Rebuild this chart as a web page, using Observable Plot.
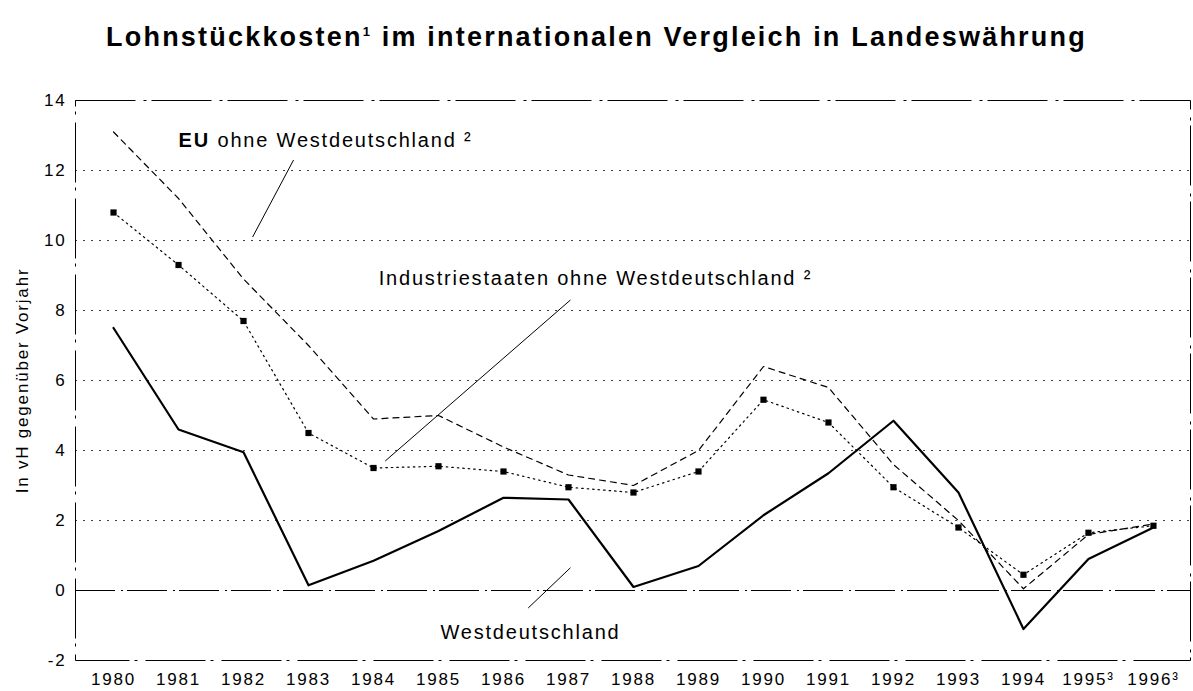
<!DOCTYPE html>
<html>
<head>
<meta charset="utf-8">
<script src="https://cdn.jsdelivr.net/npm/d3@7"></script>
<script src="https://cdn.jsdelivr.net/npm/@observablehq/plot@0.6"></script>
<style>
  html, body { margin: 0; padding: 0; background: #fff; overflow: hidden; }
  #title { height: 70px; box-sizing: border-box; padding-top: 22px; text-align: center;
           font: bold 27px "Liberation Sans", Arial, sans-serif; letter-spacing: 2.2px; color: #000; }
  #chart svg text { letter-spacing: 1.8px; }
</style>
</head>
<body>
<div id="title">Lohnstückkosten<sup style="font-size:13px">1</sup> im internationalen Vergleich in Landeswährung</div>
<div id="chart"></div>
<script>
const years = [1980,1981,1982,1983,1984,1985,1986,1987,1988,1989,1990,1991,1992,1993,1994,1995,1996];
const westdeutschland = [7.5,4.6,3.95,0.15,0.85,1.7,2.65,2.6,0.1,0.7,2.15,3.35,4.85,2.8,-1.1,0.9,1.8];
const euOhneWest = [13.1,11.2,8.9,7.0,4.9,5.0,4.1,3.3,3.0,4.0,6.4,5.8,3.6,2.0,0.05,1.6,1.9];
const industrieOhneWest = [10.8,9.3,7.7,4.5,3.5,3.55,3.4,2.95,2.8,3.4,5.45,4.8,2.95,1.8,0.45,1.65,1.85];
const yTicks = [-2,0,2,4,6,8,10,12,14];
const yearLabels = years.map(y => (y >= 1995 ? y + "³" : String(y)));
const yLabel = "In vH gegenüber Vorjahr";

// annotation labels (data coordinates) and leader lines
const seriesLabels = [
  {text: "EU", x: 1981.0, y: 12.85, bold: true},
  {text: "ohne Westdeutschland ²", x: 1981.6, y: 12.85, bold: false},
  {text: "Industriestaaten ohne Westdeutschland ²", x: 1984.08, y: 8.9, bold: false},
  {text: "Westdeutschland", x: 1985.03, y: -1.2, bold: false}
];
const leaders = [
  {x1: 1982.77, y1: 12.3, x2: 1982.14, y2: 10.1, dash: "2,3"},
  {x1: 1987.03, y1: 8.3, x2: 1984.18, y2: 3.7, dash: "6,3,2,3"},
  {x1: 1986.38, y1: -0.5, x2: 1987.03, y2: 0.65, dash: "6,3,2,3"}
];

const rows = (vals) => years.map((yr, i) => ({year: yr, value: vals[i]}));
const westRows = rows(westdeutschland);
const euRows = rows(euOhneWest);
const indRows = rows(industrieOhneWest);

const font = '"Liberation Sans", Arial, sans-serif';

const chart = Plot.plot({
  width: 1193,
  height: 620,
  marginLeft: 75,
  marginRight: 3,
  marginTop: 30,
  marginBottom: 30,
  style: {fontFamily: font, fontSize: "18px", color: "#000", background: "#fff"},
  x: {domain: [1979.415, 1996.57]},
  y: {domain: [-2, 14]},
  marks: [
    Plot.gridY(yTicks.filter(v => v > -2 && v < 14 && v !== 0), {stroke: "#000", strokeOpacity: 0.75, strokeDasharray: "2,6"}),
    Plot.ruleY([0], {stroke: "#000", strokeWidth: 1, strokeDasharray: "40,6,2,4"}),
    Plot.frame({stroke: "#000", strokeWidth: 1, strokeDasharray: "60,8,3,5"}),
    Plot.axisY({ticks: yTicks, tickSize: 0, tickPadding: 9, fontSize: 17, label: yLabel,
                tickFormat: d => String(d),
                labelAnchor: "center", labelArrow: "none", labelOffset: 60}),
    Plot.axisX({ticks: years, tickSize: 0, tickPadding: 12, fontSize: 17, label: null,
                tickFormat: d => yearLabels[years.indexOf(d)]}),
    Plot.line(euRows, {x: "year", y: "value", stroke: "#000", strokeWidth: 1.2, strokeDasharray: "6,5"}),
    Plot.line(indRows, {x: "year", y: "value", stroke: "#000", strokeWidth: 1.2, strokeDasharray: "1.5,4"}),
    Plot.dot(indRows, {x: "year", y: "value", symbol: "square", r: 3.5, fill: "#000", stroke: "none"}),
    Plot.line(westRows, {x: "year", y: "value", stroke: "#000", strokeWidth: 2.2}),
    Plot.link(leaders, {x1: "x1", y1: "y1", x2: "x2", y2: "y2", stroke: "#000", strokeWidth: 1, strokeDasharray: d => d.dash}),
    Plot.text(seriesLabels.filter(d => d.bold), {x: "x", y: "y", text: "text", textAnchor: "start", fontSize: 20, fontWeight: "bold", fill: "#000"}),
    Plot.text(seriesLabels.filter(d => !d.bold), {x: "x", y: "y", text: "text", textAnchor: "start", fontSize: 20, fill: "#000"})
  ]
});
document.getElementById("chart").appendChild(chart);
</script>
</body>
</html>
